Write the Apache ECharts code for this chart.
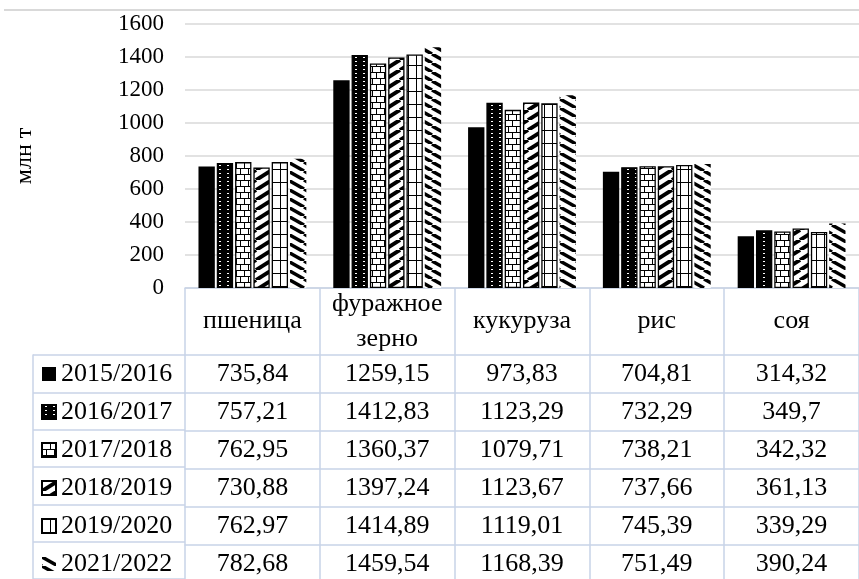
<!DOCTYPE html>
<html>
<head>
<meta charset="utf-8">
<script src="https://cdn.jsdelivr.net/npm/echarts@6/dist/echarts.min.js"></script>
<style>
  html, body { margin: 0; padding: 0; background: #fff; }
  #chart { width: 859px; height: 579px; }
</style>
</head>
<body>
<div id="chart"></div>
<script>
// Crop categories (header row of the data table)
const categories = ['пшеница', 'фуражное\nзерно', 'кукуруза', 'рис', 'соя'];
// Marketing years (series / table rows)
const seasons = ['2015/2016', '2016/2017', '2017/2018', '2018/2019', '2019/2020', '2021/2022'];
// Production, million tonnes
const v2015 = [735.84, 1259.15, 973.83, 704.81, 314.32];
const v2016 = [757.21, 1412.83, 1123.29, 732.29, 349.7];
const v2017 = [762.95, 1360.37, 1079.71, 738.21, 342.32];
const v2018 = [730.88, 1397.24, 1123.67, 737.66, 361.13];
const v2019 = [762.97, 1414.89, 1119.01, 745.39, 339.29];
const v2021 = [782.68, 1459.54, 1168.39, 751.49, 390.24];
const yTicks = { min: 0, max: 1600, step: 200 };

const seriesValues = [v2015, v2016, v2017, v2018, v2019, v2021];

const FONT = "'Liberation Serif', 'Times New Roman', serif";
const TABLE_LINE = '#c8d3e7';
const GRID_LINE = '#d9d9d9';
const HEADER_H = 67;
const ROW_H = 38;

const fmt = v => String(v).replace('.', ',');

// Hatch fills drawn onto small repeating canvases
function tile(w, h, draw) {
  const c = document.createElement('canvas');
  c.width = w; c.height = h;
  const ctx = c.getContext('2d');
  draw(ctx, w, h);
  return { image: c, repeat: 'repeat' };
}

const dotted = tile(8, 4, (ctx, w, h) => {
  ctx.fillStyle = '#000'; ctx.fillRect(0, 0, w, h);
  ctx.fillStyle = '#fff'; ctx.fillRect(3, 1, 2, 1);
});

const brick = tile(8, 12, (ctx, w, h) => {
  ctx.fillStyle = '#fff'; ctx.fillRect(0, 0, w, h);
  ctx.fillStyle = '#000';
  ctx.fillRect(0, 0, w, 1);
  ctx.fillRect(0, 6, w, 1);
  ctx.fillRect(0, 0, 1, 6);
  ctx.fillRect(4, 6, 1, 6);
});

const upDiag = tile(16, 10, (ctx, w, h) => {
  ctx.fillStyle = '#fff'; ctx.fillRect(0, 0, w, h);
  ctx.strokeStyle = '#000'; ctx.lineWidth = 4;
  for (let k = -1; k <= 1; k++) {
    ctx.beginPath();
    ctx.moveTo(k * w, h);
    ctx.lineTo(k * w + w, 0);
    ctx.stroke();
  }
});

const squares = tile(8, 13, (ctx, w, h) => {
  ctx.fillStyle = '#fff'; ctx.fillRect(0, 0, w, h);
  ctx.fillStyle = '#000';
  ctx.fillRect(0, 0, w, 1);
  ctx.fillRect(0, 0, 1, h);
});

const downDiag = tile(16, 9, (ctx, w, h) => {
  ctx.fillStyle = '#fff'; ctx.fillRect(0, 0, w, h);
  ctx.strokeStyle = '#000'; ctx.lineWidth = 3.5;
  for (let k = -1; k <= 1; k++) {
    ctx.beginPath();
    ctx.moveTo(k * w, 0);
    ctx.lineTo(k * w + w, h);
    ctx.stroke();
  }
});

const fills = ['#000', dotted, brick, upDiag, squares, downDiag];

const chart = echarts.init(document.getElementById('chart'), null, { renderer: 'canvas' });

const rowAxes = seasons.map((s, k) => ({
  type: 'category',
  gridIndex: 0,
  position: 'bottom',
  offset: HEADER_H + ROW_H * k,
  data: categories,
  axisLine: { show: true, lineStyle: { color: TABLE_LINE, width: 1.5 } },
  axisTick: { show: true, interval: 0, length: ROW_H, lineStyle: { color: TABLE_LINE, width: 1.5 } },
  axisLabel: {
    interval: 0,
    margin: ROW_H / 2,
    verticalAlign: 'middle',
    fontFamily: FONT, fontSize: 26, color: '#000',
    formatter: (val, i) => fmt(seriesValues[k][i])
  },
  splitLine: { show: false }
}));

chart.setOption({
  animation: false,
  backgroundColor: '#fff',
  grid: [
    { left: 185, right: 0, top: 24, bottom: 291, containLabel: false },
    { left: 33, width: 152, top: 355, height: ROW_H * seasons.length }
  ],
  legend: {
    orient: 'vertical',
    left: 41,
    top: 355,
    width: 150,
    height: ROW_H * seasons.length + 20,
    padding: 0,
    itemGap: 0,
    itemWidth: 14,
    itemHeight: 14,
    icon: 'rect',
    selectedMode: false,
    data: seasons,
    textStyle: { fontFamily: FONT, fontSize: 26, color: '#000', lineHeight: ROW_H }
  },
  graphic: [
    { type: 'line', shape: { x1: 4, y1: 10, x2: 859, y2: 10 }, style: { stroke: GRID_LINE, lineWidth: 2 }, silent: true }
  ],
  xAxis: [
    {
      type: 'category',
      gridIndex: 0,
      position: 'bottom',
      data: categories,
      axisLine: { show: true, lineStyle: { color: TABLE_LINE, width: 1.5 } },
      axisTick: { show: true, interval: 0, length: HEADER_H, lineStyle: { color: TABLE_LINE, width: 1.5 } },
      axisLabel: {
        interval: 0,
        margin: HEADER_H / 2,
        verticalAlign: 'middle',
        lineHeight: 35,
        fontFamily: FONT, fontSize: 26, color: '#000'
      },
      splitLine: { show: false }
    },
    ...rowAxes,
    { type: 'value', gridIndex: 1, show: false }
  ],
  yAxis: [
    {
      type: 'value',
      gridIndex: 0,
      min: yTicks.min,
      max: yTicks.max,
      interval: yTicks.step,
      name: 'млн т',
      nameLocation: 'middle',
      nameGap: 148,
      nameTextStyle: { fontFamily: FONT, fontSize: 24, color: '#000' },
      axisLine: { show: false },
      axisTick: { show: false },
      axisLabel: { fontFamily: FONT, fontSize: 23, color: '#000', margin: 21, formatter: v => String(v) },
      splitLine: { show: true, lineStyle: { color: GRID_LINE, width: 1.5 } }
    },
    {
      type: 'category',
      gridIndex: 1,
      inverse: true,
      data: seasons,
      axisLine: { show: true, lineStyle: { color: TABLE_LINE, width: 1.5 } },
      axisTick: { show: false },
      axisLabel: { show: false },
      splitLine: { show: true, interval: 0, lineStyle: { color: TABLE_LINE, width: 1.5 } }
    }
  ],
  series: seasons.map((name, k) => ({
    type: 'bar',
    name,
    xAxisIndex: 0,
    yAxisIndex: 0,
    data: seriesValues[k],
    barGap: '12%',
    barCategoryGap: '20%',
    itemStyle: {
      color: fills[k],
      borderColor: '#000',
      borderWidth: k === 0 ? 0 : (k === 5 ? 0 : 1.3)
    },
    emphasis: { disabled: true }
  }))
});
</script>
</body>
</html>
